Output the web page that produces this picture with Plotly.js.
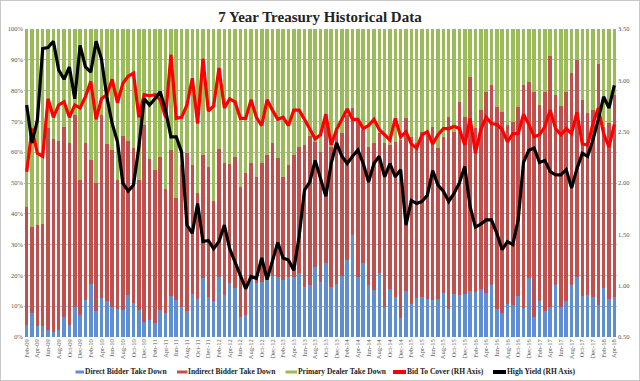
<!DOCTYPE html>
<html>
<head>
<meta charset="utf-8">
<script src="https://cdn.plot.ly/plotly-3.0.1.min.js"></script>
<style>
html,body{margin:0;padding:0;background:#fff;}
#wrap{position:relative;width:640px;height:381px;}
#chart{width:640px;height:381px;}
#frame{position:absolute;left:0;top:0;width:640px;height:381px;box-sizing:border-box;border:1px solid #c8c8c8;pointer-events:none;}
</style>
</head>
<body>
<div id="wrap"><div id="chart"></div><div id="frame"></div></div>
<script>
const months = [
"Feb-09","Mar-09","Apr-09","May-09","Jun-09","Jul-09","Aug-09","Sep-09","Oct-09","Nov-09","Dec-09",
"Jan-10","Feb-10","Mar-10","Apr-10","May-10","Jun-10","Jul-10","Aug-10","Sep-10","Oct-10","Nov-10","Dec-10",
"Jan-11","Feb-11","Mar-11","Apr-11","May-11","Jun-11","Jul-11","Aug-11","Sep-11","Oct-11","Nov-11","Dec-11",
"Jan-12","Feb-12","Mar-12","Apr-12","May-12","Jun-12","Jul-12","Aug-12","Sep-12","Oct-12","Nov-12","Dec-12",
"Jan-13","Feb-13","Mar-13","Apr-13","May-13","Jun-13","Jul-13","Aug-13","Sep-13","Oct-13","Nov-13","Dec-13",
"Jan-14","Feb-14","Mar-14","Apr-14","May-14","Jun-14","Jul-14","Aug-14","Sep-14","Oct-14","Nov-14","Dec-14",
"Jan-15","Feb-15","Mar-15","Apr-15","May-15","Jun-15","Jul-15","Aug-15","Sep-15","Oct-15","Nov-15","Dec-15",
"Jan-16","Feb-16","Mar-16","Apr-16","May-16","Jun-16","Jul-16","Aug-16","Sep-16","Oct-16","Nov-16","Dec-16",
"Jan-17","Feb-17","Mar-17","Apr-17","May-17","Jun-17","Jul-17","Aug-17","Sep-17","Oct-17","Nov-17","Dec-17",
"Jan-18","Feb-18","Mar-18","Apr-18"];

const directPct = [
3.9,7.8,3.5,3.7,2.2,1.5,2.2,6.6,3.9,9.8,7.0,
12.0,17.2,8.3,12.6,11.8,9.8,9.0,8.7,13.6,11.0,8.7,5.0,
5.5,4.4,8.7,7.8,13.2,12.0,9.8,8.3,14.0,12.2,19.0,13.1,
11.8,19.6,13.6,17.6,15.8,6.6,7.1,19.6,17.4,18.0,19.8,19.8,
19.6,18.5,19.4,19.6,20.7,16.1,16.9,22.6,18.0,24.1,16.3,17.2,
19.8,25.0,33.1,19.4,24.1,16.9,15.3,20.7,9.8,15.5,13.1,6.1,
15.0,10.7,12.6,13.1,12.2,12.0,12.2,14.4,9.0,13.9,13.6,13.9,
15.0,14.7,15.5,14.2,16.9,9.0,7.7,10.7,10.4,13.3,9.3,19.0,
6.6,11.8,8.5,9.8,16.9,9.6,11.8,16.9,19.4,13.3,13.6,13.1,
10.4,15.8,12.2,13.1];

const indirectPct = [
38.4,27.9,32.9,33.0,65.8,62.7,61.5,61.7,59.2,62.3,44.0,
51.1,40.3,41.6,59.5,50.9,50.9,42.0,56.5,50.0,50.3,42.3,63.8,
52.2,49.8,49.8,40.2,47.5,33.0,46.0,51.5,41.8,34.4,40.1,42.2,
32.2,41.4,42.8,38.6,42.7,42.2,46.3,36.8,34.6,38.4,39.3,43.3,
38.4,33.5,36.4,39.5,40.9,46.2,48.4,40.8,42.2,46.4,45.5,50.5,
46.3,47.1,41.1,51.1,43.1,44.9,47.6,45.4,53.1,46.8,50.3,57.9,
56.0,54.3,50.3,53.6,54.5,56.3,49.1,50.6,62.5,52.8,62.8,57.6,
69.3,53.0,58.2,65.4,64.9,65.8,65.5,58.1,59.5,61.5,72.5,63.9,
73.0,63.5,71.1,81.4,61.7,65.4,67.8,68.7,70.5,63.6,59.0,60.6,
78.2,52.5,57.2,65.5];

const primaryPct = [
57.7,64.3,63.6,63.3,32.0,35.8,36.3,31.7,36.9,27.9,49.0,
36.9,42.5,50.1,27.9,37.3,39.3,49.0,34.8,36.4,38.7,49.0,31.2,
42.3,45.8,41.5,52.0,39.3,55.0,44.2,40.2,44.2,53.4,40.9,44.7,
56.0,39.0,43.6,43.8,41.5,51.2,46.6,43.6,48.0,43.6,40.9,36.9,
42.0,48.0,44.2,40.9,38.4,37.7,34.7,36.6,39.8,29.5,38.2,32.3,
33.9,27.9,25.8,29.5,32.8,38.2,37.1,33.9,37.1,37.7,36.6,36.0,
29.0,35.0,37.1,33.3,33.3,31.7,38.7,35.0,28.5,33.3,23.6,28.5,
15.7,32.3,26.3,20.4,18.2,25.2,26.8,31.2,30.1,25.2,18.2,17.1,
20.4,24.7,20.4,8.8,21.4,25.0,20.4,14.4,10.1,23.1,27.4,26.3,
11.4,31.7,30.6,21.4];

const bidToCover = [
2.11,2.53,2.29,2.26,2.82,2.64,2.76,2.79,2.64,2.76,2.73,
2.84,2.99,2.62,2.82,2.86,3.01,2.78,2.97,3.04,3.07,2.64,2.86,
2.85,2.86,2.81,2.64,3.25,2.63,2.64,2.76,3.02,2.58,3.21,2.70,
2.75,3.12,2.73,2.82,2.79,2.63,2.63,2.81,2.64,2.56,2.81,2.71,
2.62,2.64,2.56,2.71,2.71,2.62,2.53,2.43,2.47,2.67,2.37,2.52,
2.62,2.72,2.62,2.62,2.53,2.56,2.62,2.52,2.47,2.42,2.63,2.45,
2.50,2.38,2.34,2.47,2.50,2.38,2.47,2.53,2.53,2.55,2.53,2.37,
2.63,2.29,2.52,2.64,2.58,2.57,2.52,2.40,2.48,2.48,2.67,2.57,
2.45,2.47,2.55,2.71,2.53,2.47,2.53,2.48,2.69,2.38,2.37,2.58,
2.73,2.48,2.35,2.57];

const highYield = [
2.76,2.39,2.61,3.31,3.32,3.38,3.10,3.01,3.13,2.82,3.34,
3.13,3.08,3.38,3.21,2.84,2.58,2.40,2.00,1.92,1.98,2.35,2.82,
2.76,2.82,2.89,2.71,2.45,2.45,2.30,1.59,1.51,1.80,1.43,1.44,
1.36,1.43,1.59,1.36,1.22,1.10,0.97,1.09,1.07,1.27,1.06,1.25,
1.42,1.27,1.25,1.15,1.48,1.93,2.01,2.22,2.05,1.87,2.19,2.39,
2.26,2.19,2.26,2.32,2.19,2.01,2.19,2.26,2.06,2.19,2.06,2.13,
1.59,1.83,1.80,1.82,1.88,2.12,1.98,1.92,1.82,1.90,2.00,2.16,
1.77,1.57,1.60,1.64,1.64,1.51,1.35,1.43,1.40,1.64,2.20,2.32,
2.34,2.20,2.22,2.11,2.08,2.08,2.13,1.95,2.14,2.29,2.26,2.42,
2.62,2.84,2.73,2.95];

const seriesNames = ["Direct Bidder Take Down","Indirect Bidder Take Down","Primary Dealer Take Down","Bid To Cover (RH Axis)","High Yield (RH Axis)"];
const seriesColors = ["#5f8fd3","#c0504d","#9bbb59","#ff0000","#000000"];

const leftTicks = [0,10,20,30,40,50,60,70,80,90,100];
const leftTickText = ["0%","10%","20%","30%","40%","50%","60%","70%","80%","90%","100%"];
const rightTicks = [0.5,1.0,1.5,2.0,2.5,3.0,3.5];
const rightTickText = ["0.50","1.00","1.50","2.00","2.50","3.00","3.50"];
const xTickLabels = months.filter((m,i)=>i%2===0);

const serif = "Liberation Serif, Times New Roman, serif";

const traces = [
 {type:'bar', name:seriesNames[0], x:months, y:directPct, marker:{color:seriesColors[0]}, yaxis:'y', showlegend:false},
 {type:'bar', name:seriesNames[1], x:months, y:indirectPct, marker:{color:seriesColors[1]}, yaxis:'y', showlegend:false},
 {type:'bar', name:seriesNames[2], x:months, y:primaryPct, marker:{color:seriesColors[2]}, yaxis:'y', showlegend:false},
 {type:'scatter', mode:'lines', name:seriesNames[3], x:months, y:bidToCover, line:{color:seriesColors[3], width:3.2}, yaxis:'y2', showlegend:false},
 {type:'scatter', mode:'lines', name:seriesNames[4], x:months, y:highYield, line:{color:seriesColors[4], width:3.2}, yaxis:'y2', showlegend:false}
];

// custom legend (plot area spans 24..617 px horizontally, 29..337 px vertically)
const M = {l:24, r:23, t:29, b:44};
const plotW = 640 - M.l - M.r, plotH = 381 - M.t - M.b;
const px = v => (v - M.l) / plotW;
const py = v => (381 - M.b - v) / plotH;
const legendSym = [[75.5,84],[177,187.5],[285.5,297],[393,406],[493,506]];
const legendY = 372;
const shapes = [], annotations = [];
seriesNames.forEach((n,i)=>{
  const [a,b] = legendSym[i];
  shapes.push({type:'line', xref:'paper', yref:'paper', x0:px(a), x1:px(b), y0:py(legendY), y1:py(legendY),
    line:{color:seriesColors[i], width:i<3?3:4}});
  annotations.push({xref:'paper', yref:'paper', x:px(b-0.5), y:py(legendY), xanchor:'left', yanchor:'middle',
    text:'<b>'+n+'</b>', showarrow:false, borderpad:0, font:{family:serif, size:7.5, color:'#222222'}});
});

const layout = {
 width:640, height:381,
 margin:{l:M.l, r:M.r, t:M.t, b:M.b, pad:0},
 paper_bgcolor:'rgba(0,0,0,0)', plot_bgcolor:'#ffffff',
 barmode:'stack', bargap:0.34,
 showlegend:false,
 title:{text:'<b>7 Year Treasury Historical Data</b>', x:0.5, xanchor:'center', y:0.955, yanchor:'middle',
        font:{family:serif, size:15, color:'#222222'}},
 xaxis:{type:'category', range:[-0.5,110.5], tickmode:'array', tickvals:xTickLabels, ticktext:xTickLabels,
        tickangle:-90, tickfont:{family:serif, size:6.5, color:'#555555'}, showgrid:false, zeroline:false,
        showline:false, ticks:'', ticklen:0, automargin:false},
 yaxis:{range:[0,100], tickmode:'array', tickvals:leftTicks, ticktext:leftTickText, tickfont:{family:serif, size:6.5, color:'#555555'},
        showgrid:true, gridcolor:'#b8b8b8', gridwidth:1, zeroline:false, showline:false, ticks:'', automargin:false},
 yaxis2:{range:[0.5,3.5], overlaying:'y', side:'right', tickmode:'array', tickvals:rightTicks, ticktext:rightTickText,
        tickfont:{family:serif, size:6.5, color:'#555555'}, showgrid:false, zeroline:false, showline:false, ticks:'', automargin:false},
 shapes:shapes,
 annotations:annotations
};

Plotly.newPlot('chart', traces, layout, {displayModeBar:false, staticPlot:true});
</script>
</body>
</html>
